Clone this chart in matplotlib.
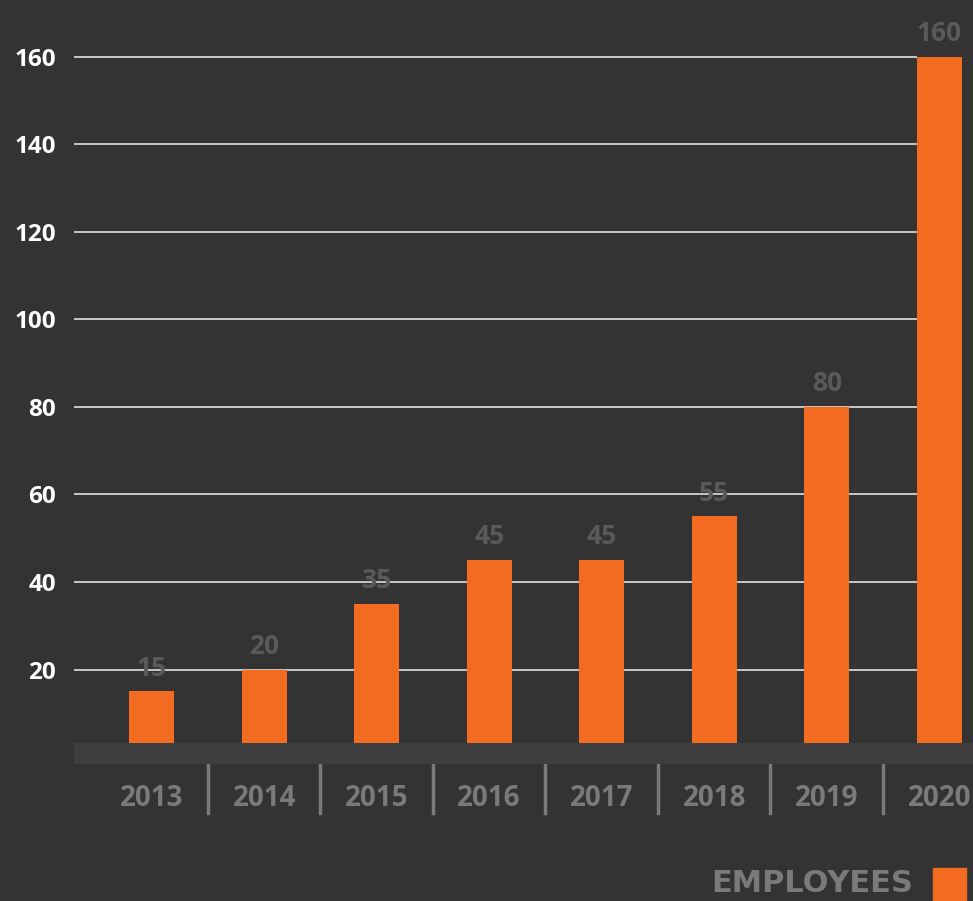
import matplotlib.pyplot as plt
from matplotlib.patches import Rectangle

years = ['2013', '2014', '2015', '2016', '2017', '2018', '2019', '2020']
employees = [15, 20, 35, 45, 45, 55, 80, 160]
yticks = [20, 40, 60, 80, 100, 120, 140, 160]

bg = '#333333'
orange = '#f26b21'
grey = '#7a7a7a'

fig = plt.figure(figsize=(9.73, 9.01), dpi=100, facecolor=bg)
ax = fig.add_axes([0.076, 0.152, 0.924, 0.848], facecolor=bg)

x = list(range(len(years)))
ax.set_xlim(-0.69, 7.30)
ax.set_ylim(-1.6, 173)

# grid lines stop at the last bar
ax.hlines(yticks, -0.69, 6.8, color='#c8c8c8', lw=1.4, zorder=1)
ax.bar(x, employees, width=0.4, color=orange, zorder=2)
# dark band on the baseline
ax.axhspan(-1.6, 3.2, color='#3e3e3e', zorder=3, lw=0)

for xi, v in zip(x, employees):
    ax.annotate(str(v), (xi, v), xytext=(0, 7), textcoords='offset points',
                ha='center', va='bottom', color='#5a5a5a', fontsize=19,
                fontfamily='Open Sans', fontweight='bold', zorder=4)

ax.set_yticks(yticks)
ax.set_yticklabels([str(t) for t in yticks], color='white', fontsize=17.5,
                   fontfamily='Open Sans', fontweight='bold')
ax.tick_params(axis='y', length=0, pad=13)
ax.set_xticks([])
for s in ax.spines.values():
    s.set_visible(False)

# year labels and separators under the band
for xi, yr in zip(x, years):
    ax.annotate(yr, (xi, -1.6), xytext=(0, -25), textcoords='offset points',
                ha='center', va='center', color=grey, fontsize=20,
                fontfamily='Open Sans', fontweight='bold', annotation_clip=False)
for xi in x[:-1]:
    ax.plot([xi + 0.5, xi + 0.5], [-1.8, -12.8], color=grey, lw=2.5, clip_on=False)

# legend
fig.text(0.938, 0.003, 'EMPLOYEES', ha='right', va='bottom', color=grey,
         fontsize=22, fontfamily='DejaVu Sans', fontweight='bold')
fig.patches.append(Rectangle((933 / 973, 0), 33 / 973, 33 / 901,
                             transform=fig.transFigure, color=orange))

fig.savefig('out.png', dpi=100, facecolor=bg)
